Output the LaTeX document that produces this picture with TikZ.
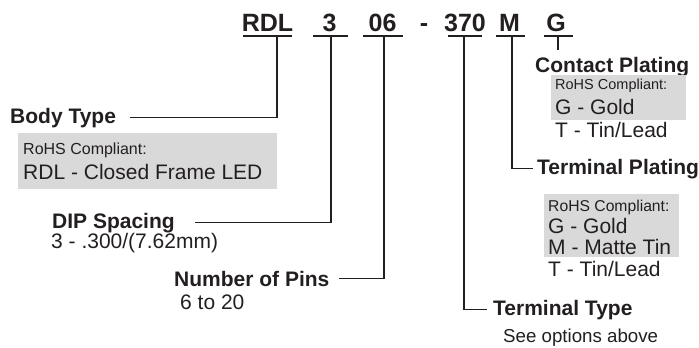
\documentclass[tikz,border=0pt]{standalone}
\usepackage{fontspec}
\setmainfont{Liberation Sans}
\usepackage{xcolor}
\usetikzlibrary{positioning}
\definecolor{inkgray}{HTML}{231F20}
\definecolor{boxgray}{HTML}{D9D9D9}

\tikzset{
  code/.style={font=\fontsize{25}{30}\selectfont\bfseries, anchor=base, inner sep=0pt},
  title/.style={font=\fontsize{21}{25}\selectfont\bfseries, anchor=base west, inner sep=0pt},
  option/.style={font=\fontsize{21}{25}\selectfont, anchor=base west, inner sep=0pt},
  rohs/.style={font=\fontsize{#1}{19}\selectfont, anchor=base west, inner sep=0pt},
  greybox/.style={fill=boxgray, inner sep=0pt, anchor=north west},
  lead/.style={line width=1.4pt, draw=inkgray},
}

\begin{document}
\begin{tikzpicture}[x=1pt, y=-1pt, every node/.append style={text=inkgray}]
    \useasboundingbox (0,0) rectangle (699,348);

    % part number
    \node[code] (rdl) at (267.5,31) {RDL};
    \node[code] (three) at (329.5,31) {3};
    \node[code] (six) at (382.5,31) {06};
    \node[code] (dash) at (424,31) {-};
    \node[code] (term) at (465,31) {370};
    \node[code] (mat) at (509.5,31) {M};
    \node[code] (plate) at (556,31) {G};
    \foreach \a/\b in {243/292, 313/348, 363/403, 448/482, 496/525, 544/573}
        \draw[lead] (\a,36) -- (\b,36);

    \coordinate (rdlU) at (277,36);
    \coordinate (threeU) at (331,36);
    \coordinate (sixU) at (384,36);
    \coordinate (termU) at (464,36);
    \coordinate (matU) at (512,36);
    \coordinate (plateU) at (558,36);
    \coordinate (plateEnd) at (558,50);

    % body type
    \node[title] (body) at (10,123) {Body Type};
    \node[greybox, minimum width=259pt, minimum height=56pt] (bodyBox) at (18,133) {};
    \node[rohs=16] (bodyRohs) at (23,154) {RoHS Compliant:};
    \node[option] (bodyOpt) at (23,179) {RDL - Closed Frame LED};

    % dip spacing
    \node[title] (dip) at (52,228) {DIP Spacing};
    \node[option] (dipOpt) at (51,248) {3 - .300/(7.62mm)};

    % number of pins
    \node[title] (pins) at (174,286) {Number of Pins};
    \node[option] (pinsOpt) at (180,309) {6 to 20};

    % contact plating
    \node[title] (contact) at (535,72) {Contact Plating};
    \node[greybox, minimum width=135pt, minimum height=45pt] (contactBox) at (551,75) {};
    \node[rohs=14.5] (contactRohs) at (555,89) {RoHS Compliant:};
    \node[option] (contactG) at (555,114) {G - Gold};
    \node[option] (contactT) at (555,137) {T - Tin/Lead};

    % terminal plating
    \node[title] (tplate) at (537,174) {Terminal Plating};
    \node[greybox, minimum width=135pt, minimum height=63pt] (tplateBox) at (544,194) {};
    \node[rohs=15.7] (tplateRohs) at (548,211) {RoHS Compliant:};
    \node[option] (tplateG) at (548,233) {G - Gold};
    \node[option] (tplateM) at (548,254) {M - Matte Tin};
    \node[option] (tplateT) at (548,276) {T - Tin/Lead};

    % terminal type
    \node[title] (ttype) at (493,315) {Terminal Type};
    \node[rohs=18.7] (ttypeOpt) at (503,342) {See options above};

    \draw[lead] (rdlU) |- ([xshift=14pt]body.east);
    \draw[lead] (threeU) |- ([xshift=20pt]dip.east);
    \draw[lead] (sixU) |- ([xshift=9pt]pins.east);
    \draw[lead] (termU) |- ([xshift=-6pt]ttype.west);
    \draw[lead] (matU) |- ([xshift=-4pt]tplate.west);
    \draw[lead] (plateU) -- (plateEnd);
\end{tikzpicture}
\end{document}
